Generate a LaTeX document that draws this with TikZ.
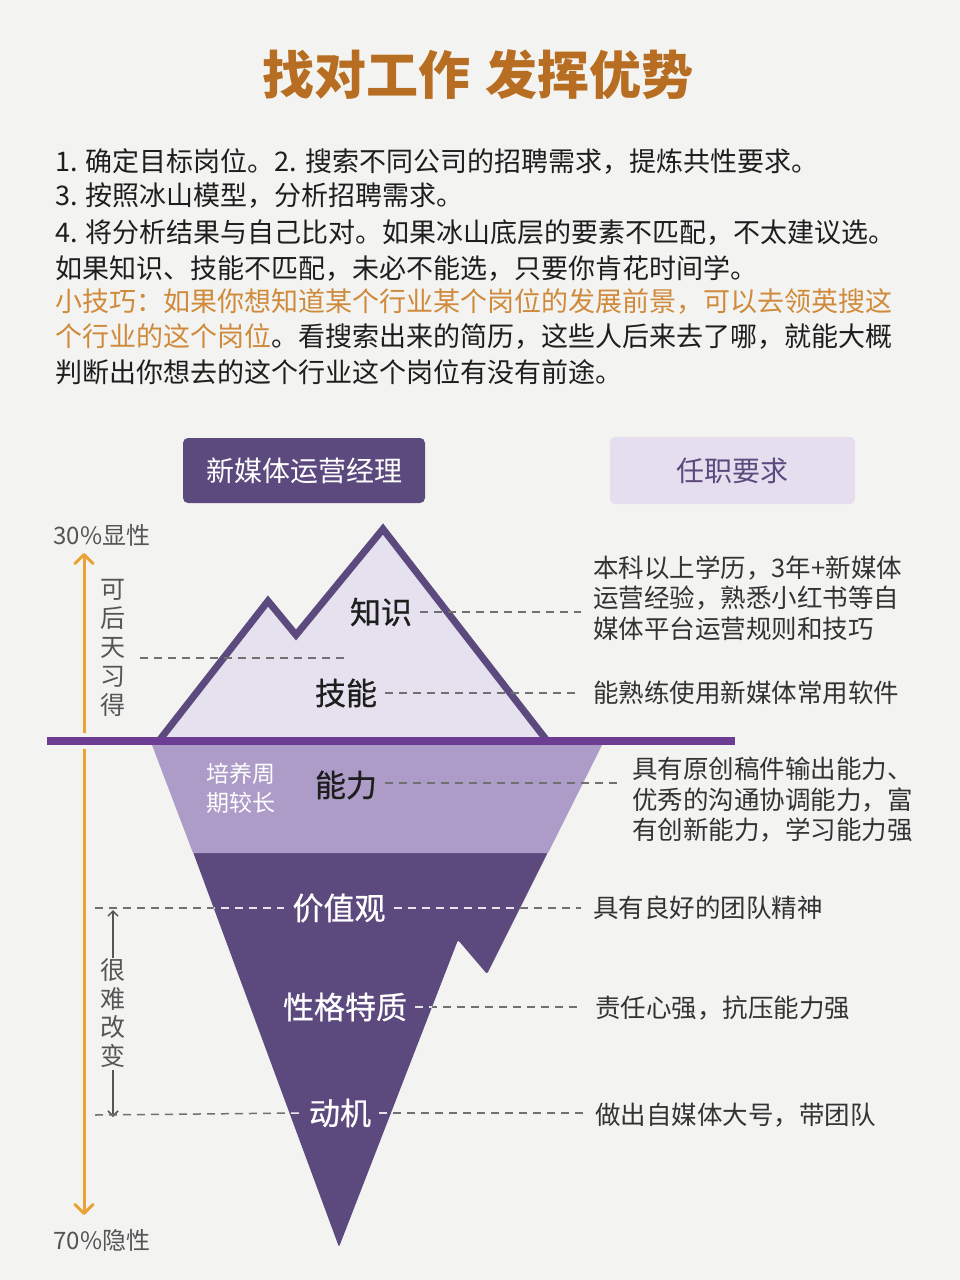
\documentclass[tikz,border=0pt]{standalone}
\usepackage{fontspec}
\setmainfont{Noto Sans CJK SC}
\newfontfamily\heavycjk{Noto Sans CJK SC}[FakeBold=0.7]
\usetikzlibrary{arrows.meta,positioning}
\definecolor{paper}{HTML}{F3F4F1}
\definecolor{berg}{HTML}{5C4A7E}
\definecolor{sea}{HTML}{6C3D92}
\definecolor{frost}{HTML}{E6E1EF}
\definecolor{lilac}{HTML}{AE9CC8}
\definecolor{lavender}{HTML}{E4DEEE}
\definecolor{rust}{HTML}{B86E22}
\definecolor{tipclr}{HTML}{D08A3C}
\definecolor{amber}{HTML}{EBA234}
\definecolor{ink}{HTML}{1E1E1E}
\definecolor{note}{HTML}{333333}
\definecolor{sidegrey}{HTML}{555555}
\definecolor{guidegrey}{HTML}{707070}

% dashes that cross the dark part of the berg
\newcommand{\deepguides}[1]{%
  \draw[guide, #1] (v1) -- (jiazhi.west);
  \draw[guide, #1] (jiazhi.east) -- (jiazhi.east -| r4.west);
  \draw[guide, #1] (xingge.east) -- (xingge.east -| r5.west);
  \draw[guide, #1] (v2) -- (dongji.west);
  \draw[guide, #1] (dongji.east) -- (dongji.east -| r6.west);
}

\begin{document}
\begin{tikzpicture}[
  x=1pt, y=-1pt,
  headline/.style={font=\fontsize{52}{60}\selectfont\bfseries, text=rust},
  para/.style={font=\fontsize{27}{34}\selectfont, text=ink, anchor=west, inner sep=0pt},
  rolebox/.style={rounded corners=5pt, fill=berg, text=white,
    minimum width=242pt, minimum height=65pt, font=\fontsize{28}{32}\selectfont},
  reqhead/.style={rounded corners=5pt, fill=lavender, text=berg,
    minimum width=245pt, minimum height=67pt, font=\fontsize{28}{32}\selectfont},
  layer/.style={font=\heavycjk\fontsize{31}{36}\selectfont, text=ink, inner xsep=8pt, inner ysep=0pt},
  req/.style={font=\fontsize{25.5}{30.5}\selectfont, text=note, align=left,
    anchor=west, inner xsep=12pt, inner ysep=0pt},
  side/.style={font=\fontsize{24}{29}\selectfont, text=sidegrey, align=center, inner sep=0pt},
  guide/.style={draw=guidegrey, line width=1.5pt, dash pattern=on 8pt off 6pt},
  rise/.style={draw=amber, line width=3pt, -{Straight Barb[length=9pt,width=18pt,round]}},
  pointer/.style={draw=sidegrey, line width=1.5pt, -{Straight Barb[length=5pt,width=10pt]}}
]

\fill[paper] (0,0) rectangle (960,1280);
\useasboundingbox (0,0) rectangle (960,1280);

% title and notes
\node[headline] (title) at (478,75) {找对工作\hspace{16pt}发挥优势};

\node[para] (p1) at (55,162) {1. 确定目标岗位。2. 搜索不同公司的招聘需求，提炼共性要求。};
\node[para] (p2) at (55,196) {3. 按照冰山模型，分析招聘需求。};
\node[para] (p3) at (55,233) {4. 将分析结果与自己比对。如果冰山底层的要素不匹配，不太建议选。};
\node[para] (p4) at (55,268) {如果知识、技能不匹配，未必不能选，只要你肯花时间学。};
\node[para, text=tipclr] (p5) at (55,302) {小技巧：如果你想知道某个行业某个岗位的发展前景，可以去领英搜这};
\node[para] (p6) at (55,337) {\textcolor{tipclr}{个行业的这个岗位}。看搜索出来的简历，这些人后来去了哪，就能大概};
\node[para] (p7) at (55,372) {判断出你想去的这个行业这个岗位有没有前途。};

% headers
\node[rolebox] (role) at (304,470.5) {新媒体运营经理};
\node[reqhead] (reqs) at (732.5,470.5) {任职要求};

% iceberg
\fill[berg, rounded corners=2pt] (193,852) -- (548,852) -- (487,974) -- (458,940) -- (339,1247) -- cycle;
\fill[lilac] (152,745) -- (602,745) -- (548,853) -- (193,853) -- cycle;
\fill[frost] (158,740) -- (268,601) -- (296,635) -- (383,529) -- (548,740) -- cycle;
\draw[berg, line width=7pt] (158,742) -- (268,601) -- (296,635) -- (383,529) -- (548,742);
\draw[sea, line width=8pt] (47,741) -- (735,741);

% side scale
\node[side] (shown) at (102,535) {30\%显性};
\node[side] (hidden) at (102,1240) {70\%隐性};
\coordinate (w1) at (84,733);
\coordinate (w2) at (84,749);
\draw[rise] (w1) -- (84,553);
\draw[rise] (w2) -- (84,1215);

\node[side, font=\fontsize{25}{29}\selectfont] (learn) at (113,648) {可\\后\\天\\习\\得};
\node[side, font=\fontsize{25}{28.5}\selectfont] (hard) at (113,1013) {很\\难\\改\\变};
\coordinate (h1) at (113,958);
\coordinate (h2) at (113,1070);
\draw[pointer] (h1) -- (113,910);
\draw[pointer] (h2) -- (113,1117);

% layers
\node[layer] (zhishi) at (381,612) {知识};
\node[layer] (jineng) at (346,693) {技能};
\node[layer] (nengli) at (346,785) {能力};
\node[side, text=white, font=\fontsize{23}{29}\selectfont, align=left] (slow) at (241,788) {培养周\\期较长};
\node[layer, text=white] (jiazhi) at (339,908) {价值观};
\node[layer, text=white] (xingge) at (345,1007) {性格特质};
\node[layer, text=white] (dongji) at (340,1113) {动机};

% requirements
\node[req] (r1) at (581,598) {本科以上学历，3年+新媒体\\运营经验，熟悉小红书等自\\媒体平台运营规则和技巧};
\node[req] (r2) at (581,693) {能熟练使用新媒体常用软件};
\node[req] (r3) at (620,800) {具有原创稿件输出能力、\\优秀的沟通协调能力，富\\有创新能力，学习能力强};
\node[req] (r4) at (581,908) {具有良好的团队精神};
\node[req] (r5) at (583,1008) {责任心强，抗压能力强};
\node[req] (r6) at (583,1115) {做出自媒体大号，带团队};

% guides
\coordinate (k1) at (140,658);
\coordinate (k2) at (348,658);
\coordinate (v1) at (95,908);
\coordinate (v2) at (95,1115);
\draw[guide] (k1) -- (k2);
\draw[guide] (zhishi.east) -- (zhishi.east -| r1.west);
\draw[guide] (jineng.east) -- (r2.west);
\draw[guide] ([yshift=2pt]nengli.east) -- ([yshift=2pt]nengli.east -| r3.west);
\deepguides{}
\begin{scope}
  \clip (193,852) -- (548,852) -- (487,974) -- (458,940) -- (339,1247) -- cycle;
  \deepguides{draw=white!85!berg}
\end{scope}

\end{tikzpicture}
\end{document}
